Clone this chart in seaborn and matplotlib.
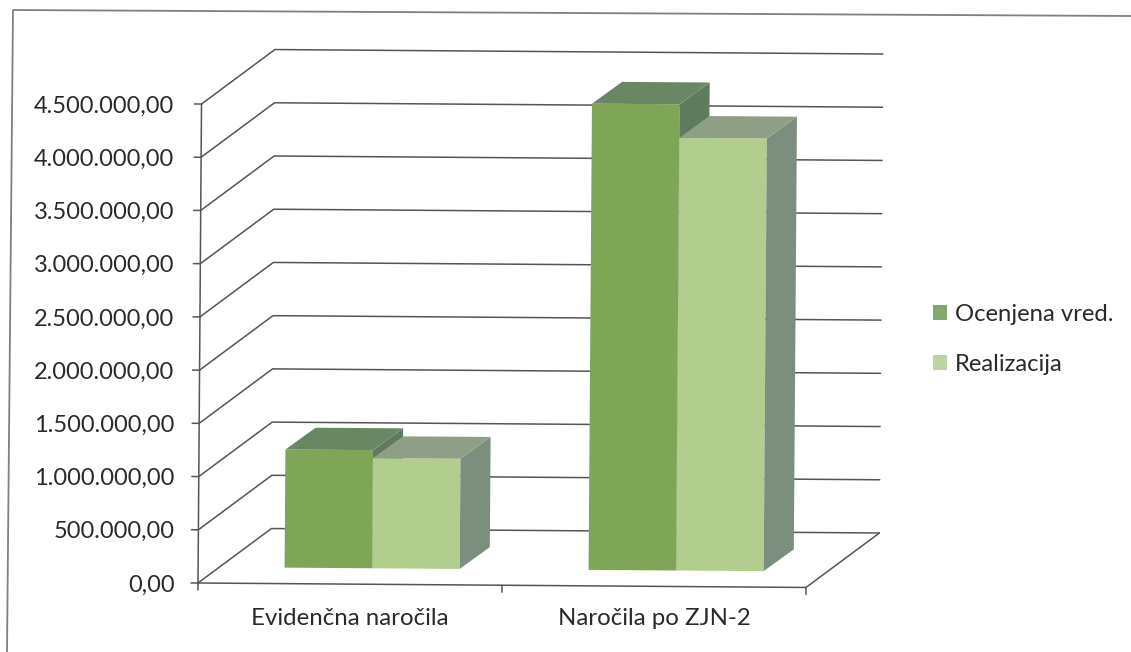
import pandas as pd
import matplotlib
matplotlib.use("Agg")
import matplotlib.pyplot as plt
import seaborn as sns
from matplotlib.patches import Polygon, Patch
from matplotlib.transforms import Affine2D

categories = ["Evidenčna naročila", "Naročila po ZJN-2"]
series_names = ["Ocenjena vred.", "Realizacija"]
ocenjena = [1110000, 4380000]
realizacija = [1035000, 4065000]
y_ticks = [0, 500000, 1000000, 1500000, 2000000, 2500000, 3000000, 3500000, 4000000, 4500000]
y_labels = ["0,00", "500.000,00", "1.000.000,00", "1.500.000,00", "2.000.000,00",
            "2.500.000,00", "3.000.000,00", "3.500.000,00", "4.000.000,00", "4.500.000,00"]

front_colors = ["#7fa557", "#b2ce8f"]
top_colors = ["#6a8763", "#8f9f86"]
side_colors = ["#5f7b5d", "#7c8f7e"]
line_color = "#555555"

W, H = 1131, 652
sns.set_theme(style="white")
plt.rcParams["font.family"] = ["Lato", "DejaVu Sans"]

fig = plt.figure(figsize=(W / 100, H / 100), dpi=100)
ax = fig.add_axes([198 / W, (H - 583) / H, 608 / W, 479 / H])

df = pd.DataFrame({
    "kategorija": categories * 2,
    "serija": [series_names[0]] * 2 + [series_names[1]] * 2,
    "vrednost": ocenjena + realizacija,
})
sns.barplot(data=df, x="kategorija", y="vrednost", hue="serija", palette=front_colors,
            width=0.576, gap=0, saturation=1, linewidth=0, ax=ax, legend=False)
ax.set_xlim(-0.5, 1.5)
ax.set_ylim(0, 4500000)
ax.set_xlabel("")
ax.set_ylabel("")
for s in ax.spines.values():
    s.set_visible(False)

# the scan is turned a bit clockwise, everything but the text goes through this
tilt = Affine2D().rotate_deg_around(198, H - 583, -0.42)
tdata = ax.transData + tilt
px_x = 2 / 608
px_y = 4500000 / 479

# depth of the fake 3d box, in pixels
wall_dx, wall_dy = 73, 55
floor_dx, floor_dy = 22, 16
bar_dx, bar_dy = 30, 22


def line(xs, ys, **kw):
    ax.plot(xs, ys, color=line_color, lw=1.1, transform=tdata, clip_on=False, zorder=1, **kw)


left, right = ax.get_xlim()
for v in y_ticks:
    back = v + wall_dy * px_y
    line([left, left + wall_dx * px_x, right + wall_dx * px_x], [v, back, back])
    line([left - 7 * px_x, left], [v, v])
line([left, left], [0, 4500000])
line([left, right, right + wall_dx * px_x], [0, 0, wall_dy * px_y])
for x in [left, 0.5, right]:
    line([x, x], [0, -7 * px_y])

# seaborn draws the front faces, the box around them comes from the same bars
bars = list(ax.patches)
fx, fy = floor_dx * px_x, floor_dy * px_y
bx, by = bar_dx * px_x, bar_dy * px_y
for i, bar in enumerate(bars):
    c = i // 2
    x0, x1 = bar.get_x(), bar.get_x() + bar.get_width()
    h = bar.get_height()
    bar.set_transform(Affine2D().translate(fx, fy) + tdata)
    bar.set_clip_on(False)
    bar.set_edgecolor("none")
    bar.set_zorder(3 + c)
    top = Polygon([(x0 + fx, h + fy), (x1 + fx, h + fy), (x1 + fx + bx, h + fy + by), (x0 + fx + bx, h + fy + by)],
                  closed=True, fc=top_colors[c], ec="none", transform=tdata, clip_on=False, zorder=3 + c)
    side = Polygon([(x1 + fx, fy), (x1 + fx + bx, fy + by), (x1 + fx + bx, h + fy + by), (x1 + fx, h + fy)],
                   closed=True, fc=side_colors[c], ec="none", transform=tdata, clip_on=False, zorder=3 + c)
    ax.add_patch(side)
    ax.add_patch(top)

ax.set_yticks(y_ticks)
ax.set_yticklabels(y_labels)
ax.set_xticks([0, 1])
ax.set_xticklabels(categories)
ax.tick_params(axis="y", length=0, pad=17, labelsize=17, labelcolor="#2a2a2a")
ax.tick_params(axis="x", length=0, pad=18, labelsize=17.3, labelcolor="#2a2a2a")

handles = [Patch(fc="#84a86c", ec="none"), Patch(fc="#bcd5a5", ec="none")]
fig.legend(handles, series_names, loc="upper left", bbox_to_anchor=(933 / W, 1 - 304 / H),
           frameon=False, fontsize=17.2, handlelength=0.58, handleheight=0.58, handletextpad=0.34,
           labelspacing=1.2, borderpad=0, borderaxespad=0, labelcolor="#2a2a2a")

# only the top and left edge of the chart frame made it into the scan
frame = plt.Line2D([7 / W, 13 / W, 1131 / W], [0, 1 - 10 / H, 1 - 16 / H], color="#808080", lw=1.3,
                   transform=fig.transFigure)
fig.add_artist(frame)

fig.savefig("out.png", dpi=100)
